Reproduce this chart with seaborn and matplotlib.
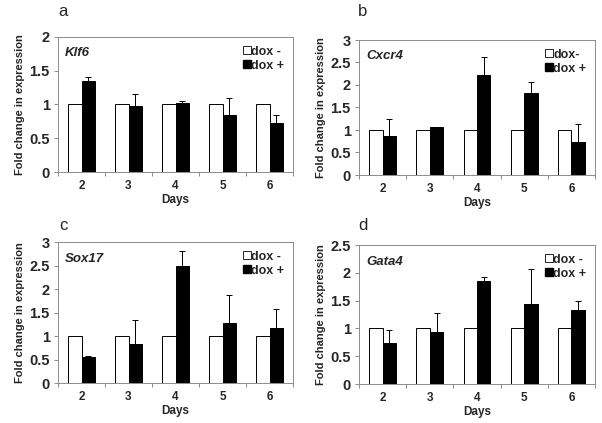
import numpy as np
import pandas as pd
import matplotlib
matplotlib.use("Agg")
import matplotlib.pyplot as plt
import seaborn as sns
from matplotlib.lines import Line2D

sns.set_theme(style="white")
plt.rcParams['font.family'] = ['Liberation Sans', 'DejaVu Sans']

days = ["2", "3", "4", "5", "6"]
groups = ["dox -", "dox +"]

genes = ["Klf6", "Cxcr4", "Sox17", "Gata4"]
letters = ["a", "b", "c", "d"]
legend_labels = [["dox -", "dox +"], ["dox-", "dox +"], ["dox -", "dox +"], ["dox -", "dox +"]]

ctrl_vals = [1, 1, 1, 1, 1]

klf6_dox = [1.35, 0.98, 1.02, 0.85, 0.72]
klf6_err = [0.06, 0.17, 0.03, 0.25, 0.12]

cxcr4_dox = [0.87, 1.07, 2.22, 1.82, 0.74]
cxcr4_err = [0.37, 0.0, 0.41, 0.25, 0.39]

sox17_dox = [0.56, 0.82, 2.48, 1.28, 1.16]
sox17_err = [0.02, 0.51, 0.33, 0.59, 0.41]

gata4_dox = [0.74, 0.94, 1.86, 1.44, 1.33]
gata4_err = [0.24, 0.34, 0.06, 0.62, 0.16]

y_limits = [2, 3, 3, 2.5]
y_ticks = [[0, 0.5, 1, 1.5, 2], [0, 0.5, 1, 1.5, 2, 2.5, 3],
           [0, 0.5, 1, 1.5, 2, 2.5, 3], [0, 0.5, 1, 1.5, 2, 2.5]]
y_ticklabels = [["0", "0.5", "1", "1.5", "2"],
                ["0", "0.5", "1", "1.5", "2", "2.5", "3"],
                ["0", "0.5", "1", "1.5", "2", "2.5", "3"],
                ["0", "0.5", "1", "1.5", "2", "2.5"]]

dox_vals = [klf6_dox, cxcr4_dox, sox17_dox, gata4_dox]
dox_errs = [klf6_err, cxcr4_err, sox17_err, gata4_err]

fig = plt.figure(figsize=(6.02, 4.23), dpi=100)
W, H = 602, 423
# axes boxes in pixels: left, top, right, bottom
boxes = [(58, 37, 293, 172), (359, 40, 595, 175), (58, 242, 293, 383), (359, 245, 595, 384)]
letter_pos = [(63, 12), (363, 12), (63, 225), (363, 225)]

spine_col = "#8c8c8c"

for i in range(4):
    l, t, r, b = boxes[i]
    ax = fig.add_axes([l / W, 1 - b / H, (r - l) / W, (b - t) / H])
    df = pd.DataFrame({
        "Days": days * 2,
        "group": [groups[0]] * 5 + [groups[1]] * 5,
        "value": ctrl_vals + dox_vals[i],
    })
    sns.barplot(data=df, x="Days", y="value", hue="group", hue_order=groups,
                order=days, palette=["white", "black"], edgecolor="black",
                linewidth=0.7, width=0.57, errorbar=None, legend=False, ax=ax)
    # error bars on dox+ bars (second hue level)
    patches = ax.patches[5:10]
    xs = [p.get_x() + p.get_width() / 2 for p in patches]
    hs = [p.get_height() for p in patches]
    err = dox_errs[i]
    ax.errorbar(xs, hs, yerr=[np.zeros(5), err], fmt="none", ecolor="black",
                elinewidth=0.7, capsize=2.2, capthick=0.7)
    ax.set_xlim(-0.5, 4.5)
    ax.set_ylim(0, y_limits[i])
    ax.set_yticks(y_ticks[i])
    ax.set_yticklabels(y_ticklabels[i], fontsize=10.5, fontweight="bold")
    ax.set_xticks(range(5))
    ax.set_xticklabels(days, fontsize=8.5, fontweight="bold")
    ax.set_xticks(np.arange(-0.5, 5.0, 1.0), minor=True)
    ax.tick_params(axis="x", which="major", length=0, pad=6)
    ax.tick_params(axis="x", which="minor", length=3, width=0.7, color=spine_col, direction="out", bottom=True)
    ax.tick_params(axis="y", which="major", length=3, width=0.7, color=spine_col, direction="out", left=True, pad=3)
    for s in ax.spines.values():
        s.set_visible(True)
        s.set_color(spine_col)
        s.set_linewidth(0.7)
    ax.set_xlabel("Days", fontsize=8.5, fontweight="bold", labelpad=1)
    ax.set_ylabel("Fold change in expression", fontsize=8, fontweight="bold", labelpad=3)
    ax.text(0.03, 0.88, genes[i], transform=ax.transAxes, fontsize=9.5,
            fontweight="bold", fontstyle="italic", va="center", ha="left")
    handles = [Line2D([], [], marker="s", linestyle="none", markersize=5.5,
                      markerfacecolor="white", markeredgecolor="black", markeredgewidth=0.6),
               Line2D([], [], marker="s", linestyle="none", markersize=5.5,
                      markerfacecolor="black", markeredgecolor="black")]
    ax.legend(handles, legend_labels[i], loc="upper right", frameon=False,
              prop={"weight": "bold", "size": 9}, handlelength=0.5,
              handletextpad=0.1, labelspacing=0.15, borderaxespad=0.3)
    lx, ly = letter_pos[i]
    fig.text(lx / W, 1 - ly / H, letters[i], fontsize=12, ha="center", va="center")

fig.savefig("out.png", dpi=100)
